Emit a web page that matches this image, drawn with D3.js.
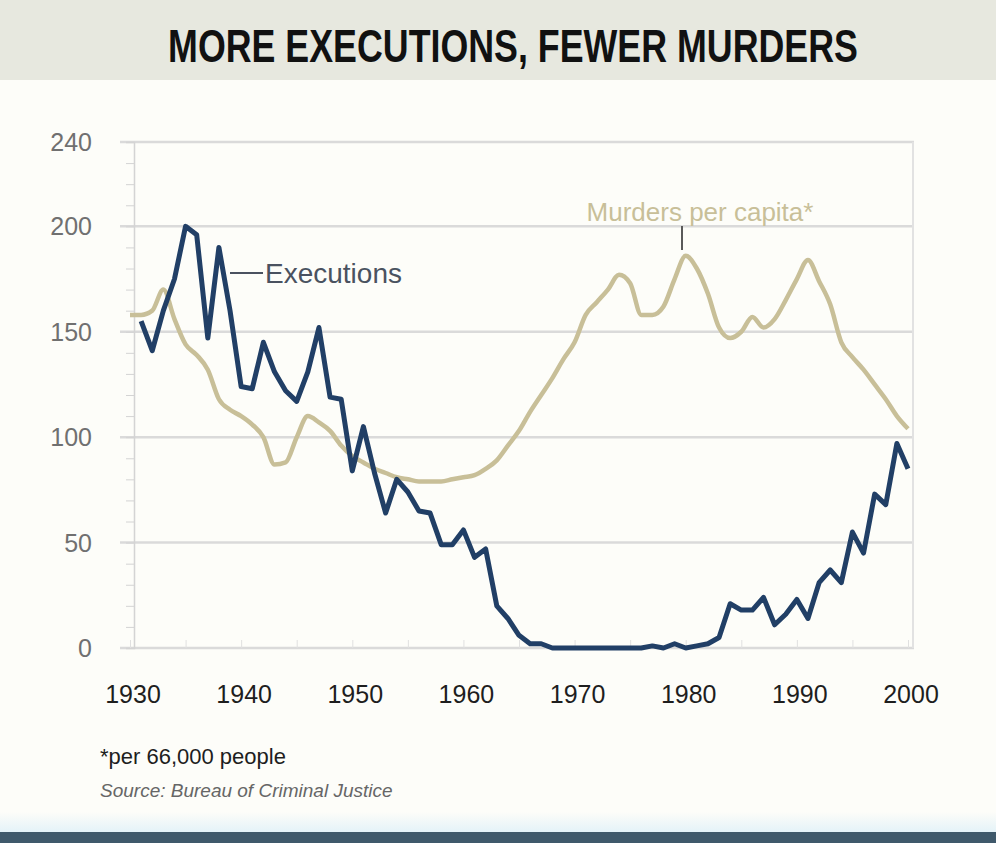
<!DOCTYPE html>
<html>
<head>
<meta charset="utf-8">
<script src="https://cdn.jsdelivr.net/npm/d3@7"></script>
<style>
  body { margin: 0; background: #fdfdf9; }
  svg { display: block; }
</style>
</head>
<body>
<div id="chart"></div>
<script>
var svgWidth = 996;
var svgHeight = 843;

// murders per capita, 1930-2000
var murderYears = d3.range(1930, 2001);
var murders = [158,158,160,170,156,144,139,132,118,113,
               110,106,100,87,88,100,110,107,103,96,
               91,88,85,83,81,80,79,79,79,80,
               81,82,85,89,96,103,112,120,128,137,
               145,158,164,170,177,173,158,158,162,175,
               186,180,168,152,147,150,157,152,156,165,
               175,184,174,163,145,138,132,125,118,110,
               104];

// executions, 1931-2000
var execYears = d3.range(1931, 2001);
var executions = [155,141,160,175,200,196,147,190,160,
                  124,123,145,131,122,117,131,152,119,118,
                  84,105,83,64,80,74,65,64,49,49,
                  56,43,47,20,14,6,2,2,0,0,
                  0,0,0,0,0,0,0,1,0,2,
                  0,1,2,5,21,18,18,24,11,16,
                  23,14,31,37,31,55,45,73,68,97,
                  85];

var yTicks = [0, 50, 100, 150, 200, 240];
var xTicks = [1930, 1940, 1950, 1960, 1970, 1980, 1990, 2000];

var font = "'Liberation Sans', Arial, sans-serif";

var svg = d3.select("#chart")
.append("svg")
.attr("width", svgWidth)
.attr("height", svgHeight);

svg.append("rect")
.attr("width", svgWidth)
.attr("height", svgHeight)
.attr("fill", "#fdfdf9");

// title band
svg.append("rect")
.attr("x", 0).attr("y", 0)
.attr("width", svgWidth).attr("height", 80)
.attr("fill", "#e7e8df");

// condensed title: squeeze it horizontally to the reference width
var titleG = svg.append("g");
var title = titleG.append("text")
.attr("text-anchor", "middle")
.attr("font-family", font)
.attr("font-weight", "bold")
.attr("font-size", 46)
.attr("fill", "#111")
.text("MORE EXECUTIONS, FEWER MURDERS");
var sx = 690 / title.node().getComputedTextLength();
titleG.attr("transform", `translate(513, 62) scale(${sx}, 1)`);

var x = d3.scaleLinear()
.domain([1930, 2000])
.range([130, 908]);

var y = d3.scaleLinear()
.domain([0, 240])
.range([648, 142]);

// gridlines
svg.append("g")
.selectAll("line")
.data(yTicks).enter()
.append("line")
.attr("x1", 120)
.attr("x2", 914)
.attr("y1", d => y(d))
.attr("y2", d => y(d))
.attr("stroke", "#dadada")
.attr("stroke-width", 2.5);

svg.append("line")
.attr("x1", 913).attr("x2", 913)
.attr("y1", y(240)).attr("y2", y(0))
.attr("stroke", "#e2e2e2")
.attr("stroke-width", 2);

// minor ticks on the left axis
var minorY = svg.append("g")
.attr("transform", "translate(134,0)")
.call(d3.axisLeft(y).ticks(24).tickSize(8).tickFormat(""));
minorY.selectAll("line").attr("stroke", "#d4d4d4");
minorY.select(".domain").attr("stroke", "#d4d4d4").attr("stroke-width", 1.5);

// minor ticks on the bottom
var minorX = svg.append("g")
.attr("transform", `translate(0, ${y(0)})`)
.call(d3.axisBottom(x).ticks(14).tickSize(-8).tickFormat(""));
minorX.selectAll("line").attr("stroke", "#e0e0e0");
minorX.select(".domain").remove();

// y labels
svg.append("g")
.selectAll("text")
.data(yTicks).enter()
.append("text")
.attr("x", 92)
.attr("y", d => y(d) + 9)
.attr("text-anchor", "end")
.attr("font-family", font)
.attr("font-size", 25)
.attr("fill", "#707070")
.text(d => d);

// x labels
svg.append("g")
.selectAll("text")
.data(xTicks).enter()
.append("text")
.attr("x", d => x(d) + 3)
.attr("y", 703)
.attr("text-anchor", "middle")
.attr("font-family", font)
.attr("font-size", 25)
.attr("fill", "#1e1e1e")
.text(d => d);

// lines
var murderLine = d3.line()
.x((d, i) => x(murderYears[i]))
.y(d => y(d))
.curve(d3.curveMonotoneX);

var execLine = d3.line()
.x((d, i) => x(execYears[i]))
.y(d => y(d));

svg.append("path")
.datum(murders)
.attr("d", murderLine)
.attr("fill", "none")
.attr("stroke", "#c8bf98")
.attr("stroke-width", 4.5)
.attr("stroke-linejoin", "round");

svg.append("path")
.datum(executions)
.attr("d", execLine)
.attr("fill", "none")
.attr("stroke", "#213f66")
.attr("stroke-width", 5)
.attr("stroke-linejoin", "round");

// labels on the lines
svg.append("line")
.attr("x1", 230).attr("x2", 263)
.attr("y1", 273).attr("y2", 273)
.attr("stroke", "#4a5260")
.attr("stroke-width", 2);

svg.append("text")
.attr("x", 265)
.attr("y", 283)
.attr("font-family", font)
.attr("font-size", 28)
.attr("fill", "#4a5260")
.text("Executions");

svg.append("line")
.attr("x1", 682).attr("x2", 682)
.attr("y1", 226).attr("y2", 250)
.attr("stroke", "#5a5a5a")
.attr("stroke-width", 2);

svg.append("text")
.attr("x", 700)
.attr("y", 221)
.attr("text-anchor", "middle")
.attr("font-family", font)
.attr("font-size", 26)
.attr("fill", "#c8bf98")
.text("Murders per capita*");

// notes
svg.append("text")
.attr("x", 100)
.attr("y", 764)
.attr("font-family", font)
.attr("font-size", 22)
.attr("fill", "#1e1e1e")
.text("*per 66,000 people");

svg.append("text")
.attr("x", 100)
.attr("y", 797)
.attr("font-family", font)
.attr("font-style", "italic")
.attr("font-size", 19)
.attr("fill", "#666")
.text("Source: Bureau of Criminal Justice");

// bottom bar
var grad = svg.append("defs").append("linearGradient")
.attr("id", "fade")
.attr("x1", 0).attr("y1", 0).attr("x2", 0).attr("y2", 1);
grad.append("stop").attr("offset", "0%").attr("stop-color", "#fdfdf9");
grad.append("stop").attr("offset", "100%").attr("stop-color", "#e4f3f8");

svg.append("rect")
.attr("x", 0).attr("y", 812)
.attr("width", svgWidth).attr("height", 20)
.attr("fill", "url(#fade)");

svg.append("rect")
.attr("x", 0).attr("y", 832)
.attr("width", svgWidth).attr("height", 11)
.attr("fill", "#3f596b");
</script>
</body>
</html>
